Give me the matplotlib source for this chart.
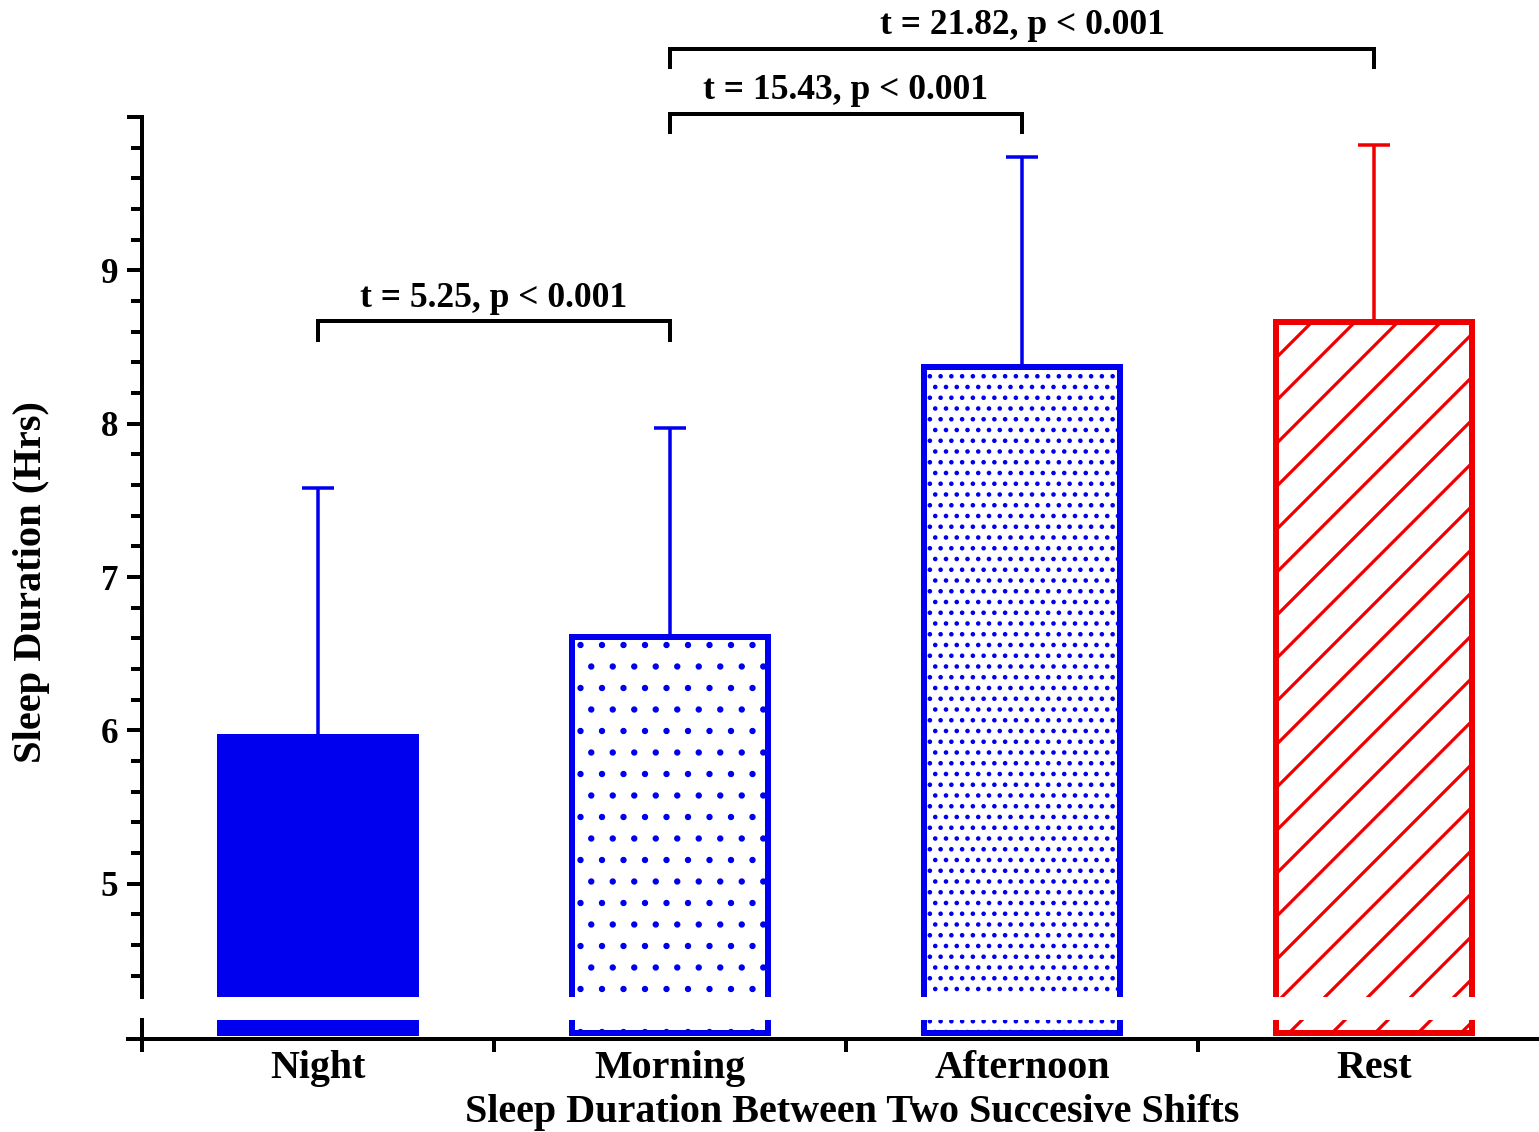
import matplotlib
matplotlib.use('Agg')
import matplotlib.pyplot as plt
from matplotlib.ticker import MultipleLocator, FixedLocator, NullLocator

# ---------------- data ----------------
categories = ['Night', 'Morning', 'Afternoon', 'Rest']
means = [5.96, 6.61, 8.37, 8.66]
sd_upper = [1.62, 1.36, 1.37, 1.16]
bar_colors = ['#0000EE', '#0000EE', '#0000EE', '#EE0000']
bar_hatches = [None, '.', '..', '/']
bar_filled = [True, False, False, False]
comp_pairs = [(0, 1), (1, 2), (1, 3)]
comp_labels = ['t = 5.25, p < 0.001', 't = 15.43, p < 0.001', 't = 21.82, p < 0.001']
comp_heights = [8.667, 10.02, 10.444]
ytick_major = [5, 6, 7, 8, 9, 10]
ytick_labels = ['5', '6', '7', '8', '9', '']
xlabel = 'Sleep Duration Between Two Succesive Shifts'
ylabel = 'Sleep Duration (Hrs)'

# ---------------- layout ----------------
DPI = 129
W, H = 1539, 1132


def px(v):
    return v * 72.0 / DPI


plt.rcParams['font.family'] = ['Liberation Serif', 'DejaVu Serif']
plt.rcParams['font.weight'] = 'bold'
plt.rcParams['hatch.linewidth'] = px(3.0)

fig = plt.figure(figsize=(W / DPI, H / DPI), dpi=DPI)
ax_up = fig.add_axes([128 / W, 1 - 997 / H, (W - 128) / W, (997 - 117) / H])
ax_lo = fig.add_axes([128 / W, 1 - 1039 / H, (W - 128) / W, 19 / H])

x = list(range(len(categories)))
hatch_lw = {None: px(3), '.': px(2.0), '..': px(2.4), '/': px(3.2)}

for ax in (ax_up, ax_lo):
    for i in x:
        b = ax.bar(i, means[i], width=0.556,
                   color=bar_colors[i] if bar_filled[i] else 'white',
                   edgecolor=bar_colors[i], linewidth=px(6),
                   hatch=bar_hatches[i], zorder=2)
        for p in b.patches:
            if hasattr(p, 'set_hatch_linewidth'):
                p.set_hatch_linewidth(hatch_lw[bar_hatches[i]])
    ax.set_xlim(-0.54, (W - 318) / 352.0)
    for s in ('top', 'right'):
        ax.spines[s].set_visible(False)
    ax.spines['left'].set_position(('data', -0.5))
    ax.spines['left'].set_linewidth(px(4))
    ax.spines['bottom'].set_linewidth(px(4))

# error bars (upper only)
for i in x:
    ax_up.errorbar(i, means[i], yerr=[[0], [sd_upper[i]]], fmt='none',
                   ecolor=bar_colors[i], elinewidth=px(3.5), capsize=px(16),
                   capthick=px(3.5), zorder=1.5)

# upper axis styling
ax_up.set_ylim(9 - (997 - 272) / 153.0, 10.0)
ax_up.spines['bottom'].set_visible(False)
ax_up.yaxis.set_major_locator(FixedLocator(ytick_major))
ax_up.set_yticklabels(ytick_labels)
ax_up.yaxis.set_minor_locator(MultipleLocator(0.2))
ax_up.tick_params(axis='y', which='major', direction='out', length=px(15),
                  width=px(4), labelsize=19.5, pad=px(9))
ax_up.tick_params(axis='y', which='minor', direction='out', length=px(11),
                  width=px(4))
ax_up.tick_params(axis='x', which='both', bottom=False, labelbottom=False)

# lower axis styling
ax_lo.set_ylim(-6 / 153.0, 13 / 153.0)
ax_lo.yaxis.set_major_locator(NullLocator())
ax_lo.yaxis.set_minor_locator(NullLocator())
ax_lo.xaxis.set_major_locator(FixedLocator([-0.5, 0.5, 1.5, 2.5]))
ax_lo.xaxis.set_minor_locator(FixedLocator(x))
ax_lo.set_xticklabels([], minor=False)
ax_lo.set_xticklabels(categories, minor=True)
ax_lo.tick_params(axis='x', which='major', direction='out', length=px(13),
                  width=px(4))
ax_lo.tick_params(axis='x', which='minor', length=0, labelsize=22.3,
                  pad=px(11))

# significance brackets
for (a, b), lab, yb in zip(comp_pairs, comp_labels, comp_heights):
    ax_up.plot([a, a, b, b], [yb - 0.12, yb, yb, yb - 0.12], color='black',
               lw=px(4), clip_on=False, solid_joinstyle='miter', zorder=3)
    ax_up.text((a + b) / 2.0, yb + 0.045, lab, ha='center', va='bottom',
               fontsize=19.8, fontweight='bold', clip_on=False)

fig.text(852 / W, 1 - 1122 / H, xlabel, ha='center', va='baseline',
         fontsize=22.4, fontweight='bold')
fig.text(32 / W, 1 - 582 / H, ylabel, ha='center', va='center',
         rotation=90, fontsize=22.6, fontweight='bold')

fig.savefig('out.png', dpi=DPI)
